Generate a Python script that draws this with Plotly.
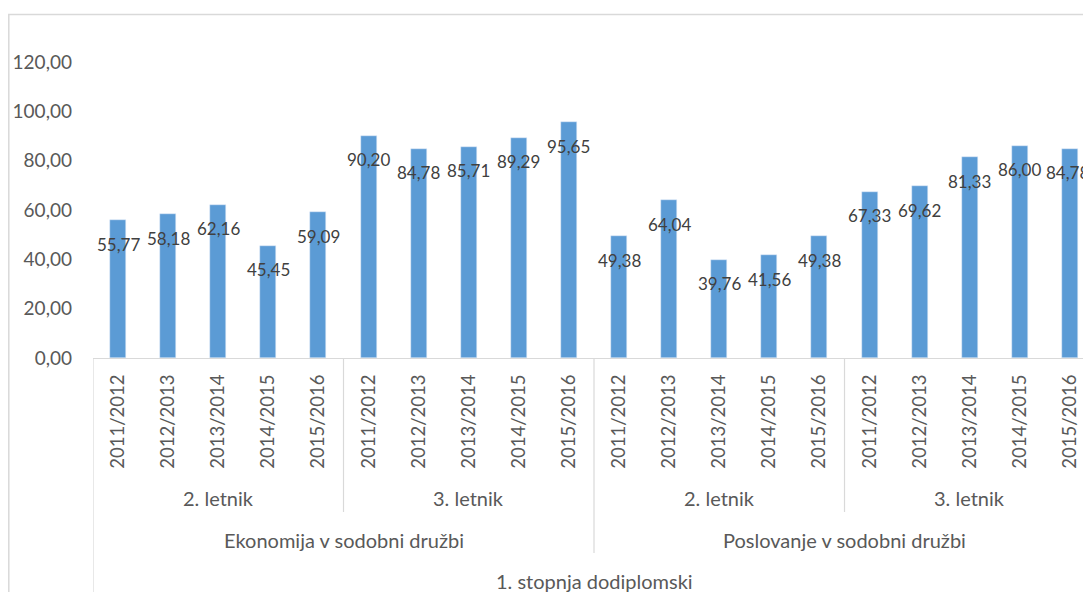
import plotly.graph_objects as go

# data
years = ['2011/2012', '2012/2013', '2013/2014', '2014/2015', '2015/2016']
letniki = ['2. letnik', '3. letnik']
programi = ['Ekonomija v sodobni družbi', 'Poslovanje v sodobni družbi']
stopnja = '1. stopnja dodiplomski'

ekon_2 = [55.77, 58.18, 62.16, 45.45, 59.09]
ekon_3 = [90.20, 84.78, 85.71, 89.29, 95.65]
posl_2 = [49.38, 64.04, 39.76, 41.56, 49.38]
posl_3 = [67.33, 69.62, 81.33, 86.00, 84.78]

values = ekon_2 + ekon_3 + posl_2 + posl_3
n = len(values)
x = list(range(n))
tick_text = years * 4

BAR = '#5B9BD5'
AXIS_TXT = '#595959'
LABEL_TXT = '#404040'
LINE = '#D9D9D9'
FONT = 'Lato'

fig = go.Figure()
fig.add_trace(go.Bar(x=x, y=values, marker_color=BAR, width=0.32, hoverinfo='x+y'))

# data labels, a little below the top of each bar
for xi, v in zip(x, values):
    fig.add_annotation(x=xi, y=v, xref='x', yref='y', text=f'{v:.2f}'.replace('.', ','),
                       showarrow=False, yshift=-24, yanchor='middle',
                       xshift=-2 if xi == n - 1 else 0,
                       font=dict(family=FONT, size=17, color=LABEL_TXT))

# the page body adds 8px on the left and top, so the figure is laid out 8px smaller
W, H = 1083, 584
ml, mt, mb = 85, 54, 234
ph = H - mt - mb   # plot height in px
pw = W - ml        # plot width in px

def py(px):
    # px below the x axis -> paper coordinate
    return -px / ph

shapes = []
# level 1: letnik groups
for g in range(4):
    start, end = g * 5 - 0.5, g * 5 + 4.5
    fig.add_annotation(x=(start + end) / 2, y=0, xref='x', yref='paper', text=letniki[g % 2],
                       showarrow=False, yshift=-140, yanchor='middle',
                       font=dict(family=FONT, size=20, color=AXIS_TXT))
    if g % 2 == 1:
        shapes.append(dict(type='line', xref='x', yref='paper', x0=end - 5, x1=end - 5,
                           y0=0, y1=py(154), line=dict(color=LINE, width=1.2)))
# level 2: programi
for p in range(2):
    start, end = p * 10 - 0.5, p * 10 + 9.5
    fig.add_annotation(x=(start + end) / 2, y=0, xref='x', yref='paper', text=programi[p],
                       showarrow=False, yshift=-182, yanchor='middle',
                       font=dict(family=FONT, size=20, color=AXIS_TXT))
shapes.append(dict(type='line', xref='x', yref='paper', x0=9.5, x1=9.5,
                   y0=0, y1=py(195), line=dict(color=LINE, width=1.2)))
# level 3
fig.add_annotation(x=9.5, y=0, xref='x', yref='paper', text=stopnja,
                   showarrow=False, yshift=-223, yanchor='middle',
                   font=dict(family=FONT, size=20, color=AXIS_TXT))
shapes.append(dict(type='line', xref='x', yref='paper', x0=-0.5, x1=-0.5,
                   y0=0, y1=py(240), line=dict(color=LINE, width=1.2)))

# outer chart border (only left and top visible)
shapes.append(dict(type='rect', xref='paper', yref='paper',
                   x0=(0.8 - ml) / pw, x1=1.05, y0=py(260), y1=(ph + mt - 6.5) / ph,
                   line=dict(color=LINE, width=1.5)))

fig.update_layout(
    width=W, height=H,
    margin=dict(l=ml, r=0, t=mt, b=mb),
    plot_bgcolor='white', paper_bgcolor='white',
    separators=',.',
    showlegend=False,
    bargap=0,
    shapes=shapes,
    font=dict(family=FONT, color=AXIS_TXT),
    xaxis=dict(range=[-0.5, 19.42], tickvals=x, ticktext=tick_text, tickangle=-90,
               showgrid=False, zeroline=False, showline=True, linecolor=LINE, linewidth=1.2,
               ticks='', ticklabelstandoff=8,
               tickfont=dict(family=FONT, size=18.5, color=AXIS_TXT)),
    yaxis=dict(range=[0, 120], dtick=20, tickformat='.2f', showgrid=False,
               zeroline=False, showline=False, ticks='', ticklabelstandoff=20,
               tickfont=dict(family=FONT, size=19, color=AXIS_TXT)),
)

fig.write_html('out.html')
